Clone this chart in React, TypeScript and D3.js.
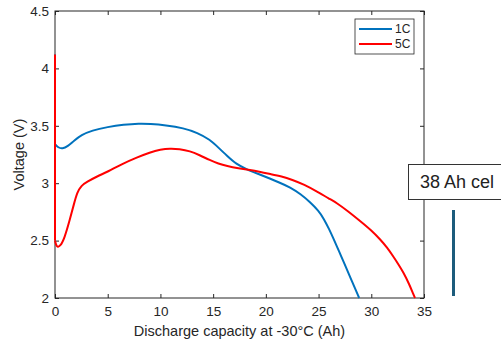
import { useEffect, useRef } from 'react'
import * as d3 from 'd3'

const W = 501
const H = 343
const MARGIN = { top: 11, right: 77, bottom: 45, left: 55 }

// discharge capacity (Ah) / voltage (V)
// first point of each series is the rest voltage at 0 Ah (vertical drop)
const cap1C = [0, 0, 0.3, 0.7, 1.2, 1.8, 2.5, 3.5, 5, 6.5, 8, 9, 10.5, 12.2, 13.5, 14.7, 15.5, 16.3, 17.2, 18.2, 19.3, 20.4, 21.3, 22.3, 23.3, 24.2, 25, 25.5, 26, 26.4, 27, 27.4, 28.1, 28.85]
const volt1C = [4.12, 3.34, 3.31, 3.3, 3.32, 3.37, 3.42, 3.46, 3.49, 3.51, 3.52, 3.517, 3.505, 3.48, 3.44, 3.38, 3.31, 3.24, 3.165, 3.12, 3.08, 3.04, 3.005, 2.965, 2.905, 2.835, 2.76, 2.69, 2.6, 2.52, 2.395, 2.31, 2.16, 2.0]

const cap5C = [0, 0, 0.15, 0.5, 0.9, 1.4, 1.8, 2.1, 2.5, 3, 4, 5, 6.3, 7.8, 9, 10, 10.9, 11.8, 12.8, 13.7, 14.7, 15.5, 16.3, 17.4, 18.5, 19.5, 20.4, 21.5, 22.5, 23.6, 25, 26, 26.7, 27.8, 28.95, 30, 30.85, 31.5, 32.1, 32.6, 33.06, 33.6, 34, 34.15]
const volt5C = [4.12, 2.5, 2.44, 2.45, 2.52, 2.68, 2.82, 2.92, 2.98, 3.01, 3.06, 3.1, 3.165, 3.225, 3.268, 3.293, 3.303, 3.298, 3.28, 3.245, 3.2, 3.17, 3.15, 3.13, 3.115, 3.097, 3.08, 3.06, 3.03, 2.99, 2.92, 2.865, 2.83, 2.755, 2.67, 2.59, 2.51, 2.44, 2.36, 2.29, 2.22, 2.12, 2.03, 2.0]

const xTicks = [0, 5, 10, 15, 20, 25, 30, 35]
const yTicks = [2, 2.5, 3, 3.5, 4, 4.5]
const seriesNames = ['1C', '5C']
const seriesColors = ['#0072BD', '#FF0000']

export default function App() {
  const svgRef = useRef<SVGSVGElement>(null)

  useEffect(() => {
    if (!svgRef.current) return
    const iw = W - MARGIN.left - MARGIN.right
    const ih = H - MARGIN.top - MARGIN.bottom
    const ink = '#262626'
    const font = "'Liberation Sans', Arial, sans-serif"

    const svg = d3.select(svgRef.current)
    svg.selectAll('*').remove()

    const x = d3.scaleLinear().domain([0, 35]).range([0, iw])
    const y = d3.scaleLinear().domain([2, 4.5]).range([ih, 0])

    const g = svg.append('g').attr('transform', `translate(${MARGIN.left},${MARGIN.top})`)

    // axes, MATLAB-style box with inward ticks
    const styleAxis = (sel: any) => {
      sel.select('.domain').remove()
      sel.selectAll('.tick line').attr('stroke', ink)
      sel.selectAll('text').attr('fill', ink).attr('font-size', 13.5).attr('font-family', font)
    }
    g.append('g').attr('transform', `translate(0,${ih})`)
      .call(d3.axisBottom(x).tickValues(xTicks).tickFormat(d3.format('d')).tickSizeInner(-4).tickPadding(8))
      .call(styleAxis)
    g.append('g')
      .call(d3.axisLeft(y).tickValues(yTicks).tickFormat(d => String(d)).tickSizeInner(-4).tickPadding(6))
      .call(styleAxis)
    g.append('g')
      .call(d3.axisTop(x).tickValues(xTicks).tickFormat(() => '').tickSizeInner(-4))
      .call(styleAxis)
    g.append('g').attr('transform', `translate(${iw},0)`)
      .call(d3.axisRight(y).tickValues(yTicks).tickFormat(() => '').tickSizeInner(-4))
      .call(styleAxis)
    g.append('rect').attr('width', iw).attr('height', ih)
      .attr('fill', 'none').attr('stroke', ink).attr('stroke-width', 1)

    // curves: vertical drop at zero, then the smooth discharge curve
    const straight = d3.line<[number, number]>().x(d => x(d[0])).y(d => y(d[1]))
    const smooth = d3.line<[number, number]>().x(d => x(d[0])).y(d => y(d[1])).curve(d3.curveBasis)
    const series = [
      cap1C.map((c, i) => [c, volt1C[i]] as [number, number]),
      cap5C.map((c, i) => [c, volt5C[i]] as [number, number]),
    ]
    series.forEach((pts, i) => {
      g.append('path').datum(pts.slice(0, 2)).attr('d', straight)
        .attr('fill', 'none').attr('stroke', seriesColors[i]).attr('stroke-width', 2)
      g.append('path').datum(pts.slice(1)).attr('d', smooth)
        .attr('fill', 'none').attr('stroke', seriesColors[i]).attr('stroke-width', 2)
        .attr('stroke-linejoin', 'round')
    })

    // legend
    const lg = g.append('g').attr('transform', `translate(${iw - 69},${8})`)
    lg.append('rect').attr('width', 59).attr('height', 35)
      .attr('fill', '#fff').attr('stroke', ink).attr('stroke-width', 0.8)
    seriesNames.forEach((name, i) => {
      const yy = 10 + i * 15
      lg.append('line').attr('x1', 4).attr('x2', 37).attr('y1', yy).attr('y2', yy)
        .attr('stroke', seriesColors[i]).attr('stroke-width', 2)
      lg.append('text').attr('x', 40).attr('y', yy + 4)
        .attr('font-size', 12).attr('font-family', font).attr('fill', ink).text(name)
    })

    // axis labels
    svg.append('text')
      .attr('x', MARGIN.left + iw / 2).attr('y', H - 7)
      .attr('text-anchor', 'middle').attr('font-size', 14.5).attr('font-family', font).attr('fill', ink)
      .text('Discharge capacity at -30°C (Ah)')
    svg.append('text')
      .attr('transform', `translate(24,${MARGIN.top + ih / 2}) rotate(-90)`)
      .attr('text-anchor', 'middle').attr('font-size', 14.5).attr('font-family', font).attr('fill', ink)
      .text('Voltage (V)')

    // side annotation (box runs past the page edge)
    svg.append('rect').attr('x', 408.5).attr('y', 164.5).attr('width', 100).attr('height', 35)
      .attr('fill', '#fff').attr('stroke', '#333').attr('stroke-width', 1)
    svg.append('text').attr('x', 420).attr('y', 188)
      .attr('font-size', 18).attr('font-family', font).attr('fill', '#222')
      .text('38 Ah cel')
    svg.append('line').attr('x1', 453.5).attr('x2', 453.5).attr('y1', 210).attr('y2', 296)
      .attr('stroke', '#1d5c7c').attr('stroke-width', 3)
  }, [])

  return (
    <div style={{ position: 'fixed', left: 0, top: 0, background: '#fff' }}>
      <svg ref={svgRef} width={W} height={H} style={{ display: 'block' }} />
    </div>
  )
}
